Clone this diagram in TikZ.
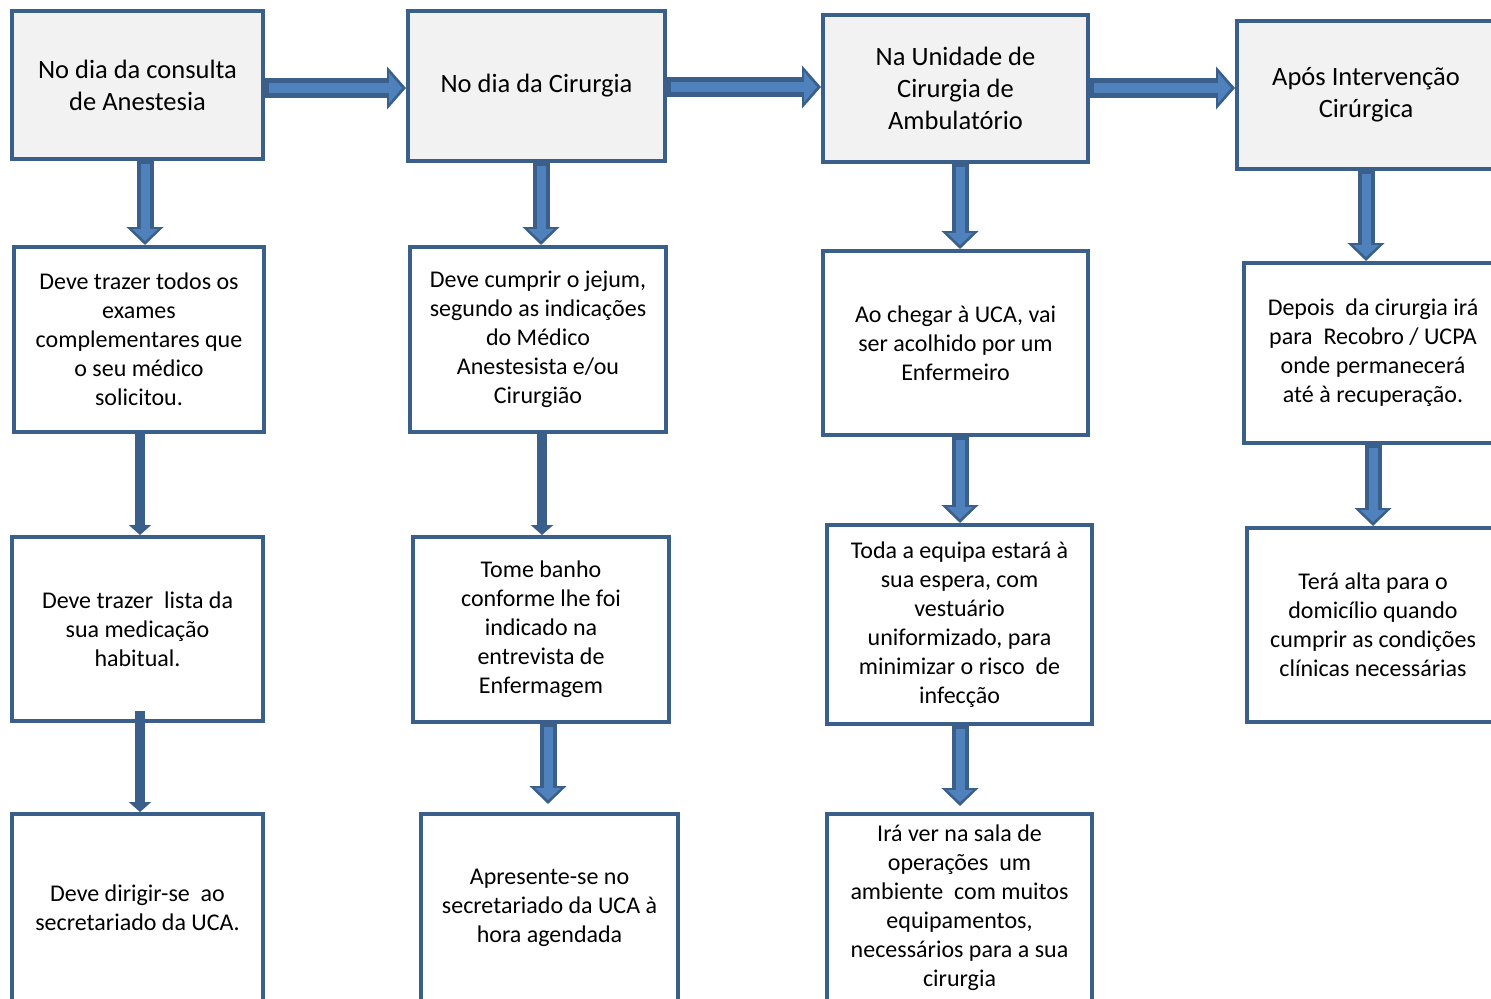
\documentclass[tikz,border=0pt]{standalone}
\usepackage{fontspec}
\setmainfont{Carlito}
\usetikzlibrary{arrows.meta}
\definecolor{bord}{HTML}{3A5F8B}
\definecolor{lite}{HTML}{4F81BD}
\definecolor{hdr}{HTML}{F2F2F2}
\begin{document}
\begin{tikzpicture}[x=0.5pt,y=-0.5pt,
  box/.style={draw=bord, line width=2pt, fill=white, inner sep=0pt, align=center, font=\fontsize{12pt}{14.5pt}\selectfont},
  hbox/.style={box, fill=hdr, font=\fontsize{13.25pt}{16pt}\selectfont},
  hout/.style={draw=bord, line width=10pt, -{Triangle[width=21pt,length=9.5pt]}},
  hin/.style={draw=lite, line width=5pt, shorten >=2pt, shorten <=2pt, -{Triangle[width=15pt,length=6.5pt]}},
  vout/.style={draw=bord, line width=8.5pt, -{Triangle[width=18pt,length=9pt]}},
  vin/.style={draw=lite, line width=4.5pt, shorten >=2pt, shorten <=1.5pt, -{Triangle[width=12.5pt,length=6pt]}},
  nout/.style={draw=bord, line width=5pt, -{Triangle[width=11pt,length=5pt]}},
]
\clip (0,0) rectangle (1491,998);
\fill[white] (0,0) rectangle (1491,998);
% column 1
\node[hbox, minimum width=125.5pt, minimum height=74pt] (A1) at (137.5,85) {No dia da consulta\\de Anestesia};
\node[box, minimum width=125pt, minimum height=92.5pt] (A2) at (139,339.5) {Deve trazer todos os\\exames\\complementares que\\o seu médico\\solicitou.};
\node[box, minimum width=125.5pt, minimum height=92pt] (A3) at (137.5,629) {Deve trazer~ lista da\\sua medicação\\habitual.};
\node[box, minimum width=125.5pt, minimum height=94pt] (A4) at (137.5,908) {Deve dirigir-se~ ao\\secretariado da UCA.};
% column 2
\node[hbox, minimum width=128.5pt, minimum height=75pt] (B1) at (536.5,86) {No dia da Cirurgia};
\node[box, minimum width=128pt, minimum height=92.5pt] (B2) at (538,339.5) {Deve cumprir o jejum,\\segundo as indicações\\do Médico\\Anestesista e/ou\\Cirurgião};
\node[box, minimum width=128pt, minimum height=92.5pt] (B3) at (541,629.5) {Tome banho\\conforme lhe foi\\indicado na\\entrevista de\\Enfermagem};
\node[box, minimum width=128.5pt, minimum height=94pt] (B4) at (549.5,908) {Apresente-se no\\secretariado da UCA à\\hora agendada};
% column 3
\node[hbox, minimum width=132.5pt, minimum height=73.5pt] (C1) at (955.5,88.5) {Na Unidade de\\Cirurgia de\\Ambulatório};
\node[box, minimum width=132.5pt, minimum height=92pt] (C2) at (955.5,343) {Ao chegar à UCA, vai\\ser acolhido por um\\Enfermeiro};
\node[box, minimum width=132.5pt, minimum height=99.5pt] (C3) at (959.5,624.5) {Toda a equipa estará à\\sua espera, com\\vestuário\\uniformizado, para\\minimizar o risco~ de\\infecção};
\node[box, minimum width=132.5pt, minimum height=94pt] (C4) at (959.5,908) {Irá ver na sala de\\operações~ um\\ambiente~ com muitos\\equipamentos,\\necessários para a sua\\cirurgia};
% column 4
\node[hbox, minimum width=129pt, minimum height=74pt] (D1) at (1366,95) {Após Intervenção\\Cirúrgica};
\node[box, minimum width=129pt, minimum height=90pt] (D2) at (1373,353) {Depois~ da cirurgia irá\\para~ Recobro / UCPA\\onde permanecerá\\até à recuperação.};
\node[box, minimum width=126pt, minimum height=97pt] (D3) at (1373,625) {Terá alta para o\\domicílio quando\\cumprir as condições\\clínicas necessárias};
% horizontal arrows
\coordinate (h1) at (0,88);
\coordinate (h2) at (0,87);
\coordinate (h3) at (0,88);
\draw[hout] (A1.east |- h1) -- (B1.west |- h1);
\draw[hin]  (A1.east |- h1) -- (B1.west |- h1);
\draw[hout] (B1.east |- h2) -- (C1.west |- h2);
\draw[hin]  (B1.east |- h2) -- (C1.west |- h2);
\draw[hout] (C1.east |- h3) -- (D1.west |- h3);
\draw[hin]  (C1.east |- h3) -- (D1.west |- h3);
% vertical arrows
\coordinate (va) at (145,0);
\coordinate (vb) at (541,0);
\coordinate (vb3) at (548,0);
\coordinate (vc) at (960,0);
\coordinate (vd1) at (1366,0);
\coordinate (vd2) at (1373,0);
\coordinate (na) at (140,0);
\coordinate (nb) at (542,0);
\draw[vout] (A1.south -| va) -- (A2.north -| va);
\draw[vin]  (A1.south -| va) -- (A2.north -| va);
\draw[nout] (A2.south -| na) -- (A3.north -| na);
\draw[nout] ([yshift=6pt]A3.south -| na) -- (A4.north -| na);
\draw[vout] (B1.south -| vb) -- (B2.north -| vb);
\draw[vin]  (B1.south -| vb) -- (B2.north -| vb);
\draw[nout] (B2.south -| nb) -- (B3.north -| nb);
\draw[vout] (B3.south -| vb3) -- ([yshift=4pt]B4.north -| vb3);
\draw[vin]  (B3.south -| vb3) -- ([yshift=4pt]B4.north -| vb3);
\draw[vout] (C1.south -| vc) -- (C2.north -| vc);
\draw[vin]  (C1.south -| vc) -- (C2.north -| vc);
\draw[vout] (C2.south -| vc) -- (C3.north -| vc);
\draw[vin]  (C2.south -| vc) -- (C3.north -| vc);
\draw[vout] (C3.south -| vc) -- ([yshift=3pt]C4.north -| vc);
\draw[vin]  (C3.south -| vc) -- ([yshift=3pt]C4.north -| vc);
\draw[vout] (D1.south -| vd1) -- (D2.north -| vd1);
\draw[vin]  (D1.south -| vd1) -- (D2.north -| vd1);
\draw[vout] (D2.south -| vd2) -- (D3.north -| vd2);
\draw[vin]  (D2.south -| vd2) -- (D3.north -| vd2);
\end{tikzpicture}
\end{document}
